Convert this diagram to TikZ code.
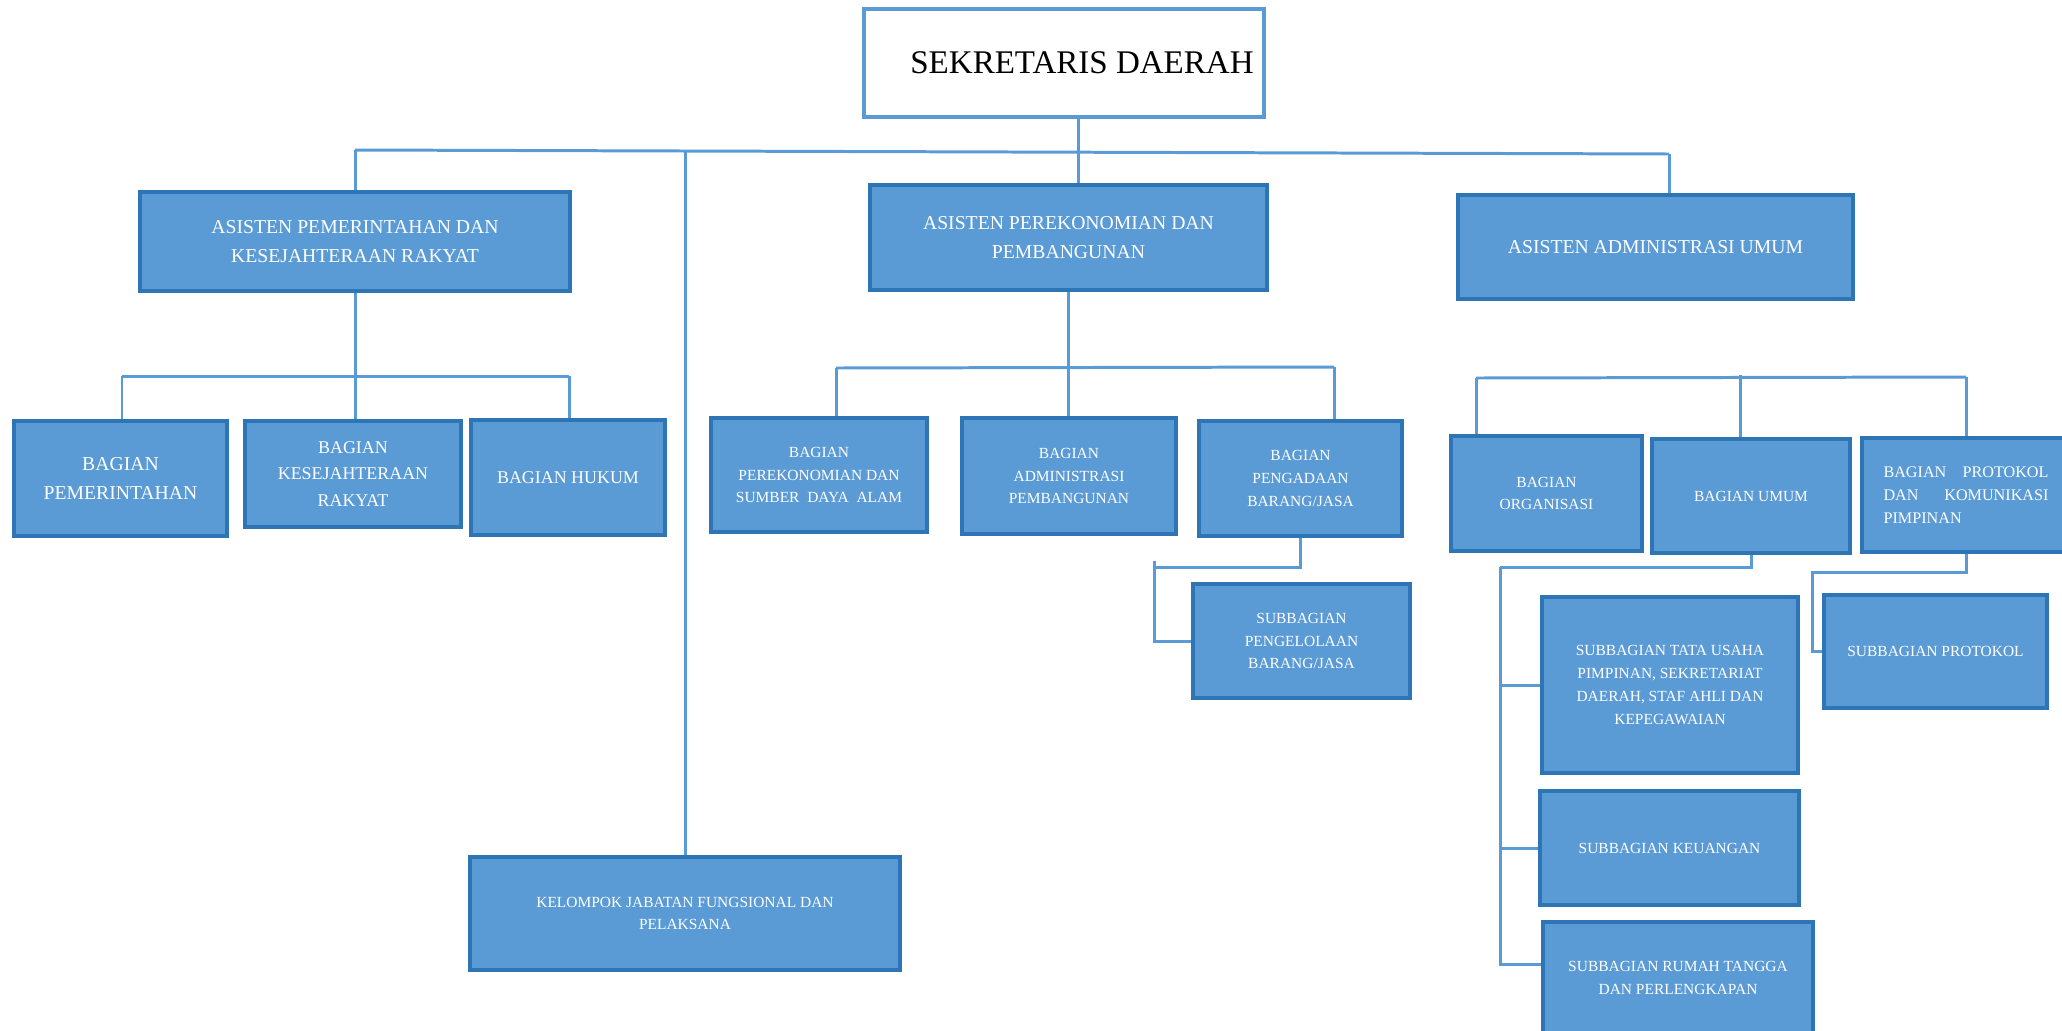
\documentclass[tikz,border=0pt]{standalone}
\usepackage{fontspec}
\setmainfont{Liberation Serif}
\usepackage{tikz}
\pgfdeclarelayer{bg}
\pgfsetlayers{bg,main}
\definecolor{boxfill}{HTML}{5B9BD5}
\definecolor{boxline}{HTML}{2E75B6}
\definecolor{linkcol}{HTML}{5B9BD5}
\tikzset{
    every node/.style={rectangle, inner sep=0mm, draw=boxline, fill=boxfill, line width=1pt, text=white, align=center}
}
\tikzset{head/.style={draw=linkcol, fill=white, text=black, font=\fontsize{9.4}{11}\selectfont}}
\tikzset{big/.style={font=\fontsize{5.6}{8.1}\selectfont}}
\tikzset{mid/.style={font=\fontsize{5.1}{7.5}\selectfont}}
\tikzset{small/.style={font=\fontsize{4.4}{6.5}\selectfont}}
\tikzset{link/.style={draw=linkcol, line width=0.85pt}}

\begin{document}
\begin{tikzpicture}
    \useasboundingbox (0cm, 0cm) rectangle (20.62cm, -10.30cm);
    \clip (0cm, 0cm) rectangle (20.62cm, -10.30cm);

    \node (sd) [head, minimum width=4.00cm, minimum height=1.08cm] at (10.64cm, -0.63cm) {\hspace{0.36cm}SEKRETARIS DAERAH};

    \node (a1) [big, minimum width=4.30cm, minimum height=0.99cm] at (3.55cm, -2.415cm) {ASISTEN PEMERINTAHAN DAN\\KESEJAHTERAAN RAKYAT};
    \node (a2) [big, minimum width=3.97cm, minimum height=1.05cm] at (10.685cm, -2.375cm) {ASISTEN PEREKONOMIAN DAN\\PEMBANGUNAN};
    \node (a3) [big, minimum width=3.95cm, minimum height=1.04cm] at (16.555cm, -2.47cm) {ASISTEN ADMINISTRASI UMUM};

    \node (b1) [font=\fontsize{5.6}{8}\selectfont, minimum width=2.13cm, minimum height=1.15cm] at (1.205cm, -4.785cm) {BAGIAN\\PEMERINTAHAN};
    \node (b2) [mid, minimum width=2.16cm, minimum height=1.06cm] at (3.53cm, -4.74cm) {BAGIAN\\KESEJAHTERAAN\\RAKYAT};
    \node (b3) [mid, minimum width=1.94cm, minimum height=1.15cm] at (5.68cm, -4.775cm) {BAGIAN HUKUM};
    \node (b4) [small, minimum width=2.16cm, minimum height=1.14cm] at (8.19cm, -4.75cm) {BAGIAN\\PEREKONOMIAN DAN\\SUMBER~ DAYA~ ALAM};
    \node (b5) [small, minimum width=2.14cm, minimum height=1.16cm] at (10.69cm, -4.76cm) {BAGIAN\\ADMINISTRASI\\PEMBANGUNAN};
    \node (b6) [small, minimum width=2.03cm, minimum height=1.15cm] at (13.005cm, -4.785cm) {BAGIAN\\PENGADAAN\\BARANG/JASA};
    \node (b7) [small, minimum width=1.91cm, minimum height=1.15cm] at (15.465cm, -4.935cm) {BAGIAN\\ORGANISASI};
    \node (b8) [small, minimum width=1.98cm, minimum height=1.14cm] at (17.51cm, -4.96cm) {BAGIAN UMUM};
    \node (b9) [font=\fontsize{4.6}{6.6}\selectfont, align=left, text width=1.65cm, minimum width=2.08cm, minimum height=1.14cm] at (19.66cm, -4.95cm) {BAGIAN\hfill PROTOKOL\\DAN\hfill KOMUNIKASI\\PIMPINAN};

    \node (s1) [small, minimum width=2.17cm, minimum height=1.14cm] at (13.015cm, -6.41cm) {SUBBAGIAN\\PENGELOLAAN\\BARANG/JASA};
    \node (s2) [small, minimum width=2.56cm, minimum height=1.76cm] at (16.70cm, -6.85cm) {SUBBAGIAN TATA USAHA\\PIMPINAN, SEKRETARIAT\\DAERAH, STAF AHLI DAN\\KEPEGAWAIAN};
    \node (s3) [small, minimum width=2.59cm, minimum height=1.14cm] at (16.695cm, -8.48cm) {SUBBAGIAN KEUANGAN};
    \node (s4) [small, minimum width=2.70cm, minimum height=1.12cm] at (16.78cm, -9.78cm) {SUBBAGIAN RUMAH TANGGA\\DAN PERLENGKAPAN};
    \node (s5) [small, minimum width=2.23cm, minimum height=1.13cm] at (19.355cm, -6.515cm) {SUBBAGIAN PROTOKOL};

    \node (kf) [small, minimum width=4.30cm, minimum height=1.13cm] at (6.85cm, -9.135cm) {KELOMPOK JABATAN FUNGSIONAL DAN\\PELAKSANA};

    % joints
    \coordinate (c0) at (10.78cm, -1.52cm);
    \coordinate (cL) at (3.55cm, -1.50cm);
    \coordinate (cR) at (16.69cm, -1.54cm);
    \coordinate (cK) at (6.85cm, -1.51cm);
    \coordinate (l0) at (1.22cm, -3.76cm);
    \coordinate (l1) at (5.69cm, -3.76cm);
    \coordinate (m0) at (8.36cm, -3.68cm);
    \coordinate (m1) at (13.34cm, -3.67cm);
    \coordinate (p0) at (11.54cm, -5.67cm);
    \coordinate (p1) at (11.54cm, -5.61cm);
    \coordinate (r0) at (14.76cm, -3.78cm);
    \coordinate (r1) at (19.66cm, -3.77cm);
    \coordinate (r2) at (17.40cm, -3.75cm);
    \coordinate (u0) at (15.00cm, -5.67cm);
    \coordinate (u1) at (15.00cm, -9.64cm);
    \coordinate (q0) at (18.12cm, -5.72cm);

    \begin{pgfonlayer}{bg}
        \draw[link] (sd.south -| c0) -- (a2.north -| c0);
        \draw[link] (cL) -- (cR);
        \draw[link] (cL) -- (a1);
        \draw[link] (cR) -- (cR |- a3.north);
        \draw[link] (cK) -- (kf);

        \draw[link] (a1) -- (a1 |- b2.north);
        \draw[link] (l0) -- (l1);
        \draw[link] (l0) -- (l0 |- b1.north);
        \draw[link] (l1) -- (l1 |- b3.north);

        \draw[link] (a2) -- (a2 |- b5.north);
        \draw[link] (m0) -- (m1);
        \draw[link] (m0) -- (m0 |- b4.north);
        \draw[link] (m1) -- (m1 |- b6.north);
        \draw[link] (b6) |- (p0);
        \draw[link] (p1) |- (s1);

        \draw[link] (r0) -- (r1);
        \draw[link] (r0) -- (r0 |- b7.north);
        \draw[link] (r2) -- (r2 |- b8.north);
        \draw[link] (r1) -- (b9);

        \draw[link] (b8) |- (u0);
        \draw[link] (u0) -- (u1) -- (u1 -| s4.west);
        \draw[link] (u0 |- s2) -- (s2);
        \draw[link] (u0 |- s3) -- (s3);
        \draw[link] (b9) |- (q0) |- (s5);
    \end{pgfonlayer}
\end{tikzpicture}
\end{document}
